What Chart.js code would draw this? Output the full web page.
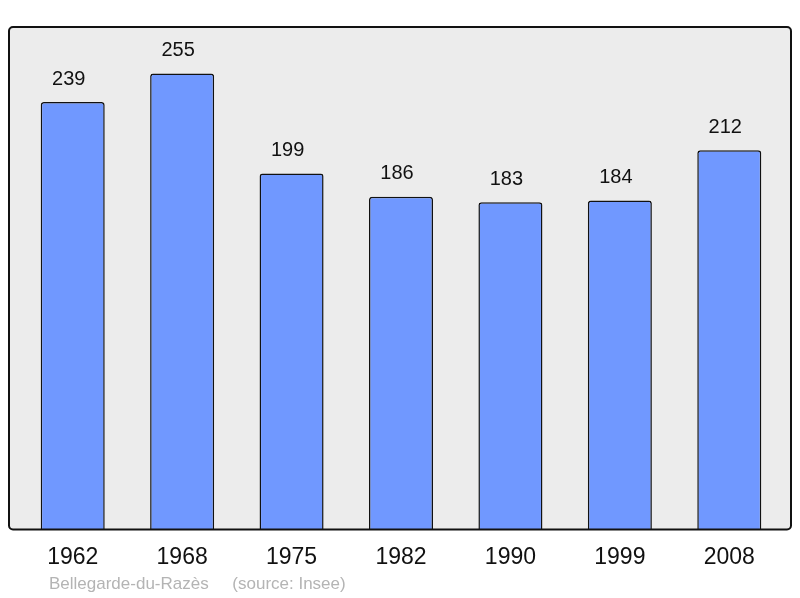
<!DOCTYPE html>
<html>
<head>
<meta charset="utf-8">
<script src="https://cdn.jsdelivr.net/npm/chart.js@4/dist/chart.umd.min.js"></script>
<style>
  body { margin: 0; background: #fff; }
  #wrap { position: relative; width: 800px; height: 598px; }
  #note {
    position: absolute; left: 49px; top: 574px;
    font: 17px "Liberation Sans", Arial, sans-serif; color: #b4b4b4;
    white-space: pre;
  }
</style>
</head>
<body>
<div id="wrap">
  <canvas id="popChart" width="800" height="598"></canvas>
  <div id="note">Bellegarde-du-Razès     (source: Insee)</div>
</div>
<script>
// Données
const annees = ['1962', '1968', '1975', '1982', '1990', '1999', '2008'];
const population = [239, 255, 199, 186, 183, 184, 212];
const Y_MAX = 281;

// Cadre gris arrondi derrière les barres
const cadre = {
  id: 'cadre',
  beforeDatasetsDraw(chart) {
    const { ctx, chartArea: a } = chart;
    ctx.save();
    ctx.beginPath();
    ctx.roundRect(a.left - 9, a.top, a.right - a.left + 16, a.bottom - a.top, 4);
    ctx.fillStyle = '#ececec';
    ctx.fill();
    ctx.restore();
  },
  afterDatasetsDraw(chart) {
    const { ctx, chartArea: a } = chart;
    ctx.save();
    ctx.beginPath();
    ctx.roundRect(a.left - 9, a.top, a.right - a.left + 16, a.bottom - a.top, 4);
    ctx.lineWidth = 2;
    ctx.strokeStyle = '#111';
    ctx.stroke();
    ctx.restore();
  }
};

// Valeurs au-dessus des barres
const etiquettes = {
  id: 'etiquettes',
  afterDatasetsDraw(chart) {
    const { ctx } = chart;
    const meta = chart.getDatasetMeta(0);
    ctx.save();
    ctx.font = '20px "Liberation Sans", Arial, sans-serif';
    ctx.fillStyle = '#111';
    ctx.textAlign = 'center';
    ctx.textBaseline = 'middle';
    meta.data.forEach((bar, i) => {
      ctx.fillText(population[i], bar.x - 4, bar.y - 23);
    });
    ctx.restore();
  }
};

new Chart(document.getElementById('popChart'), {
  type: 'bar',
  data: {
    labels: annees,
    datasets: [{
      data: population,
      backgroundColor: '#7098ff',
      borderColor: '#111',
      borderWidth: 1.5,
      borderRadius: { topLeft: 3, topRight: 3 },
      borderSkipped: 'bottom',
      barPercentage: 0.585,
      categoryPercentage: 1
    }]
  },
  options: {
    responsive: false,
    animation: false,
    layout: { padding: { left: 18, right: 16, top: 27, bottom: 13 } },
    scales: {
      x: {
        grid: { display: false, drawTicks: false },
        border: { display: false },
        ticks: {
          color: '#111',
          padding: 14,
          font: { family: '"Liberation Sans", Arial, sans-serif', size: 23 }
        }
      },
      y: { display: false, min: 0, max: Y_MAX }
    },
    plugins: {
      legend: { display: false },
      tooltip: { enabled: false }
    }
  },
  plugins: [cadre, etiquettes]
});
</script>
</body>
</html>
